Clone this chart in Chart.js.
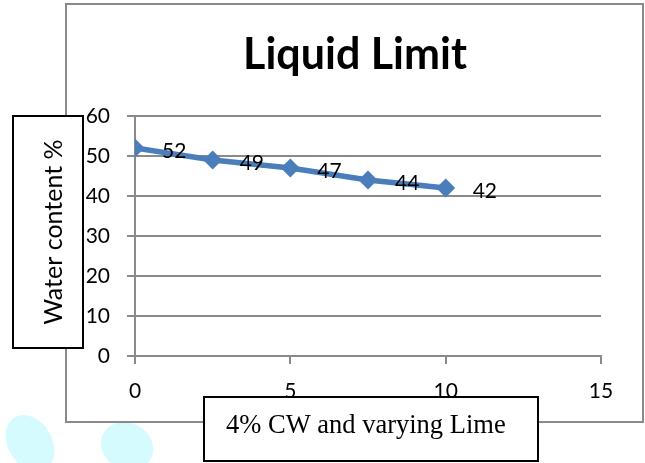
<!DOCTYPE html>
<html>
<head>
<meta charset="utf-8">
<title>Liquid Limit</title>
<script src="https://cdn.jsdelivr.net/npm/chart.js@4/dist/chart.umd.min.js"></script>
<style>
  html, body { margin: 0; padding: 0; background: #fff; }
  #wrap { width: 645px; height: 463px; position: relative; }
</style>
</head>
<body>
<div id="wrap"><canvas id="chartLL"></canvas></div>
<script>
// Liquid limit vs lime content (4% CW)
const limeContent = [0, 2.5, 5, 7.5, 10];
const waterContent = [52, 49, 47, 44, 42];
const xTicks = [0, 5, 10, 15];
const yTicks = [0, 10, 20, 30, 40, 50, 60];

const chartTitle = 'Liquid Limit';
const yTitle = 'Water content %';
const xTitle = '4% CW and varying Lime';

const gridGray = '#8a8a8a';
const lineBlue = '#4a7ebb';

Chart.defaults.font.family = 'Lato';

// frame, title, value labels and the boxed axis titles
const decorations = {
    id: 'decorations',
    beforeDraw: (chart) => {
        const ctx = chart.ctx;
        ctx.save();
        ctx.fillStyle = '#fff';
        ctx.fillRect(0, 0, chart.width, chart.height);

        // faint leaves in the bottom-left corner
        ctx.fillStyle = 'rgba(210, 251, 255, 0.9)';
        ctx.beginPath();
        ctx.ellipse(30, 443, 22, 30, -0.55, 0, Math.PI * 2);
        ctx.fill();
        ctx.beginPath();
        ctx.ellipse(127, 446, 27, 23, 0.45, 0, Math.PI * 2);
        ctx.fill();

        // outer chart frame
        ctx.strokeStyle = gridGray;
        ctx.lineWidth = 2;
        ctx.strokeRect(66, 4, 577, 418);
        ctx.restore();
    },
    afterDatasetsDraw: (chart) => {
        const ctx = chart.ctx;
        const meta = chart.getDatasetMeta(0);
        ctx.save();
        ctx.fillStyle = '#000';
        ctx.font = '21px Lato';
        ctx.textAlign = 'left';
        ctx.textBaseline = 'middle';
        meta.data.forEach((pt, i) => {
            ctx.fillText(String(waterContent[i]), pt.x + 27, pt.y + 3);
        });
        ctx.restore();
    },
    afterDraw: (chart) => {
        const ctx = chart.ctx;
        ctx.save();

        // chart title
        ctx.fillStyle = '#000';
        ctx.font = 'bold 43px Lato';
        ctx.textAlign = 'center';
        ctx.textBaseline = 'alphabetic';
        ctx.fillText(chartTitle, 355, 69);

        // y axis title box
        ctx.fillStyle = '#fff';
        ctx.fillRect(13, 116, 70, 232);
        ctx.strokeStyle = '#000';
        ctx.lineWidth = 2;
        ctx.strokeRect(13, 116, 70, 232);
        ctx.save();
        ctx.translate(62, 232);
        ctx.rotate(-Math.PI / 2);
        ctx.fillStyle = '#000';
        ctx.font = '25px Lato';
        ctx.textAlign = 'center';
        ctx.fillText(yTitle, 0, 0);
        ctx.restore();

        // x axis title box
        ctx.fillStyle = '#fff';
        ctx.fillRect(204, 397, 334, 64);
        ctx.strokeRect(204, 397, 334, 64);
        ctx.fillStyle = '#000';
        ctx.font = '26.5px "Liberation Serif"';
        ctx.textAlign = 'left';
        ctx.fillText(xTitle, 226, 433);

        ctx.restore();
    }
};

const dataLL = {
    datasets: [{
        data: limeContent.map((x, i) => ({ x: x, y: waterContent[i] })),
        showLine: true,
        borderColor: lineBlue,
        backgroundColor: lineBlue,
        borderWidth: 5.5,
        pointStyle: 'rectRot',
        pointRadius: 9.5,
        pointBorderWidth: 0,
        pointBackgroundColor: lineBlue,
        tension: 0
    }]
};

const configLL = {
    type: 'scatter',
    data: dataLL,
    options: {
        responsive: false,
        animation: false,
        layout: {
            padding: { left: 0, right: 44, top: 116, bottom: 0 }
        },
        plugins: {
            legend: { display: false },
            tooltip: { enabled: false },
            title: { display: false }
        },
        scales: {
            x: {
                type: 'linear',
                min: xTicks[0],
                max: xTicks[xTicks.length - 1],
                afterBuildTicks: (scale) => {
                    scale.ticks = xTicks.map(v => ({ value: v }));
                },
                afterFit: (scale) => { scale.height = 107; },
                grid: {
                    drawOnChartArea: false,
                    drawTicks: true,
                    tickLength: 8,
                    color: gridGray,
                    lineWidth: 2
                },
                border: { display: true, color: gridGray, width: 2 },
                ticks: {
                    color: '#000',
                    font: { size: 21 },
                    padding: 15,
                    maxRotation: 0
                }
            },
            y: {
                type: 'linear',
                min: yTicks[0],
                max: yTicks[yTicks.length - 1],
                afterBuildTicks: (scale) => {
                    scale.ticks = yTicks.map(v => ({ value: v }));
                },
                afterFit: (scale) => { scale.width = 135; },
                grid: {
                    drawTicks: true,
                    tickLength: 8,
                    color: gridGray,
                    lineWidth: 2
                },
                border: { display: true, color: gridGray, width: 2 },
                ticks: {
                    color: '#000',
                    font: { size: 21 },
                    padding: 17
                }
            }
        }
    },
    plugins: [decorations]
};

const canvas = document.getElementById('chartLL');
canvas.width = 645;
canvas.height = 463;
let chartLL = new Chart(canvas, configLL);
</script>
</body>
</html>
